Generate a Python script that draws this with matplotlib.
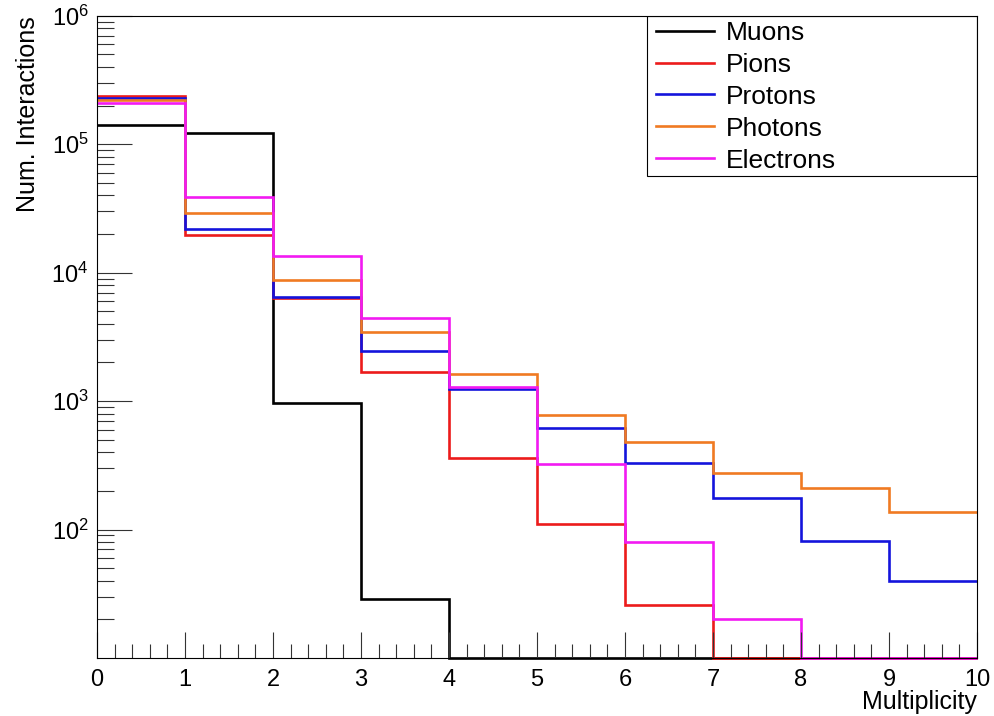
import numpy as np
import matplotlib
matplotlib.use("Agg")
import matplotlib.pyplot as plt
from matplotlib.patches import Rectangle
from matplotlib.ticker import FixedLocator, LogLocator, MultipleLocator, NullFormatter

plt.rcParams["font.family"] = ["Liberation Sans", "DejaVu Sans"]
plt.rcParams["mathtext.default"] = "regular"

# multiplicity bins 0..10
edges = np.arange(0, 11)

muons = [1.40e5, 1.23e5, 958, 29, 0, 0, 0, 0, 0, 0]
pions = [2.38e5, 1.98e4, 6.40e3, 1.67e3, 362, 111, 26, 0, 0, 0]
protons = [2.29e5, 2.19e4, 6.44e3, 2.44e3, 1.24e3, 618, 328, 177, 82, 40]
photons = [2.19e5, 2.90e4, 8.8e3, 3.48e3, 1.64e3, 781, 479, 277, 209, 138]
electrons = [2.09e5, 3.87e4, 1.34e4, 4.4e3, 1.29e3, 322, 80, 20, 0, 0]

names = ["Muons", "Pions", "Protons", "Photons", "Electrons"]
colors = ["black", "#ec1b1b", "#1414dc", "#f07a22", "#f21af2"]

ymin, ymax = 10, 1e6

fig = plt.figure(figsize=(9.94, 7.16), dpi=100)
ax = fig.add_axes([0.0976, 0.081, 0.8853, 0.897])

for vals, name, col in zip([muons, pions, protons, photons, electrons], names, colors):
    # empty bins sit on the floor of the log axis
    y = np.maximum(np.array(vals, dtype=float), ymin)
    ax.stairs(y, edges, baseline=None, color=col, lw=1.9, label=name, clip_on=False)

ax.set_yscale("log")
ax.set_xlim(0, 10)
ax.set_ylim(ymin, ymax)

ax.xaxis.set_major_locator(MultipleLocator(1))
ax.xaxis.set_minor_locator(MultipleLocator(0.2))
ax.yaxis.set_major_locator(FixedLocator([1e2, 1e3, 1e4, 1e5, 1e6]))
ax.yaxis.set_minor_locator(LogLocator(base=10, subs=np.arange(2, 10)))
ax.yaxis.set_minor_formatter(NullFormatter())

ax.tick_params(axis="both", which="both", direction="in", top=False, right=False,
               labelsize=17, color="#333333", width=0.8)
ax.tick_params(axis="x", which="major", length=19, pad=8)
ax.tick_params(axis="x", which="minor", length=10)
ax.tick_params(axis="y", which="major", length=25, pad=6)
ax.tick_params(axis="y", which="minor", length=12)

for sp in ax.spines.values():
    sp.set_linewidth(0.8)

ax.set_xlabel("Multiplicity", fontsize=18, loc="right", labelpad=-1)
ax.set_ylabel("Num. Interactions", fontsize=18, loc="top", labelpad=8)

# legend box drawn separately so its size stays fixed
ax.add_patch(Rectangle((0.625, 0.751), 0.375, 0.249, transform=ax.transAxes,
                       fill=False, edgecolor="black", lw=0.8, zorder=4))
leg = ax.legend(loc="upper left", bbox_to_anchor=(0.632, 0.997), borderaxespad=0,
                fontsize=19, frameon=False, handlelength=2.2,
                handletextpad=0.45, labelspacing=0.3, borderpad=0.12)

fig.savefig("out.png", dpi=100)
